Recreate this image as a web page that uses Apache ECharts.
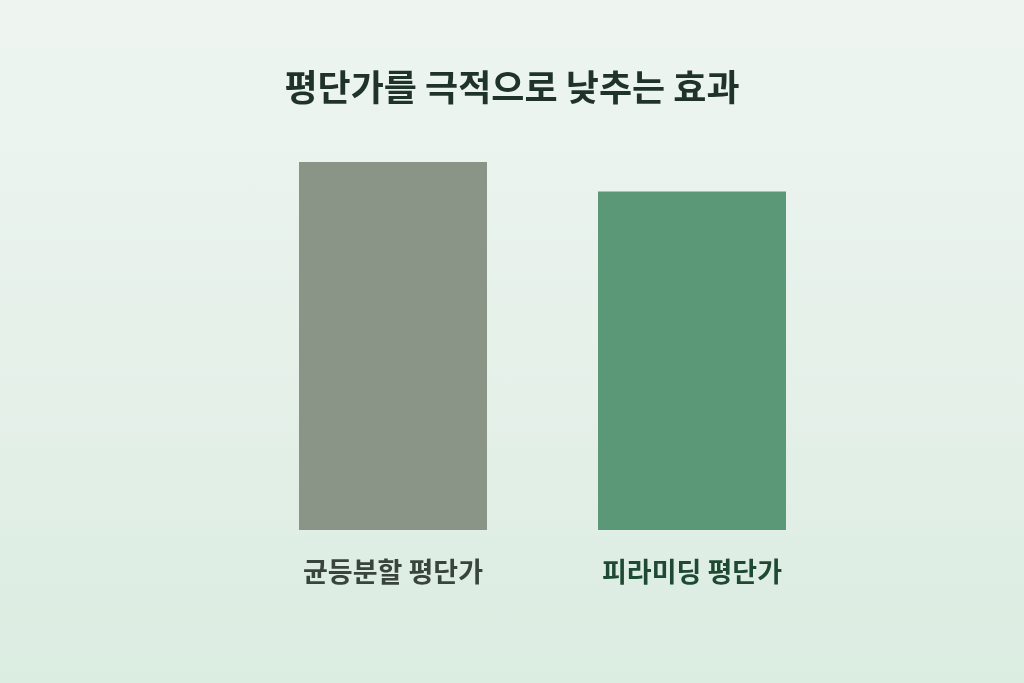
<!DOCTYPE html>
<html>
<head>
<meta charset="utf-8">
<script src="https://cdn.jsdelivr.net/npm/echarts@6/dist/echarts.min.js"></script>
<style>
html,body{margin:0;padding:0;width:1024px;height:683px;overflow:hidden;}
#c{width:1024px;height:683px;background:linear-gradient(to bottom,#eef5f1 0%,#e6f1ea 50%,#dbece1 100%);}
</style>
</head>
<body>
<div id="c"></div>
<script>
var titleText = '평단가를 극적으로 낮추는 효과';
var categories = ['균등분할 평단가', '피라미딩 평단가'];
var values = [100, 92];
var barColors = ['#8a9588', '#5a9878'];
var labelColors = ['#38443c', '#1e4a33'];

var chart = echarts.init(document.getElementById('c'), null, {renderer: 'canvas'});
chart.setOption({
  backgroundColor: 'transparent',
  title: {
    text: titleText,
    left: 'center',
    top: 64,
    textStyle: {fontFamily: 'Noto Sans CJK KR', fontSize: 36, fontWeight: 'bold', color: '#1f3328'}
  },
  grid: {left: 243.5, right: 182.5, top: 162, bottom: 153},
  xAxis: {
    type: 'category',
    data: categories,
    axisLine: {show: false},
    axisTick: {show: false},
    axisLabel: {
      interval: 0,
      hideOverlap: false,
      margin: 28,
      fontFamily: 'Noto Sans CJK KR',
      fontSize: 27,
      fontWeight: 'bold',
      formatter: function (v, i) { return '{c' + i + '|' + v + '}'; },
      rich: {
        c0: {color: labelColors[0], fontFamily: 'Noto Sans CJK KR', fontSize: 27, fontWeight: 'bold'},
        c1: {color: labelColors[1], fontFamily: 'Noto Sans CJK KR', fontSize: 27, fontWeight: 'bold'}
      }
    }
  },
  yAxis: {
    type: 'value',
    min: 0,
    max: 100,
    show: false,
    splitLine: {show: false}
  },
  series: [{
    type: 'bar',
    barWidth: 188,
    data: values.map(function (v, i) { return {value: v, itemStyle: {color: barColors[i]}}; }),
    animation: false
  }],
  animation: false
});
</script>
</body>
</html>
